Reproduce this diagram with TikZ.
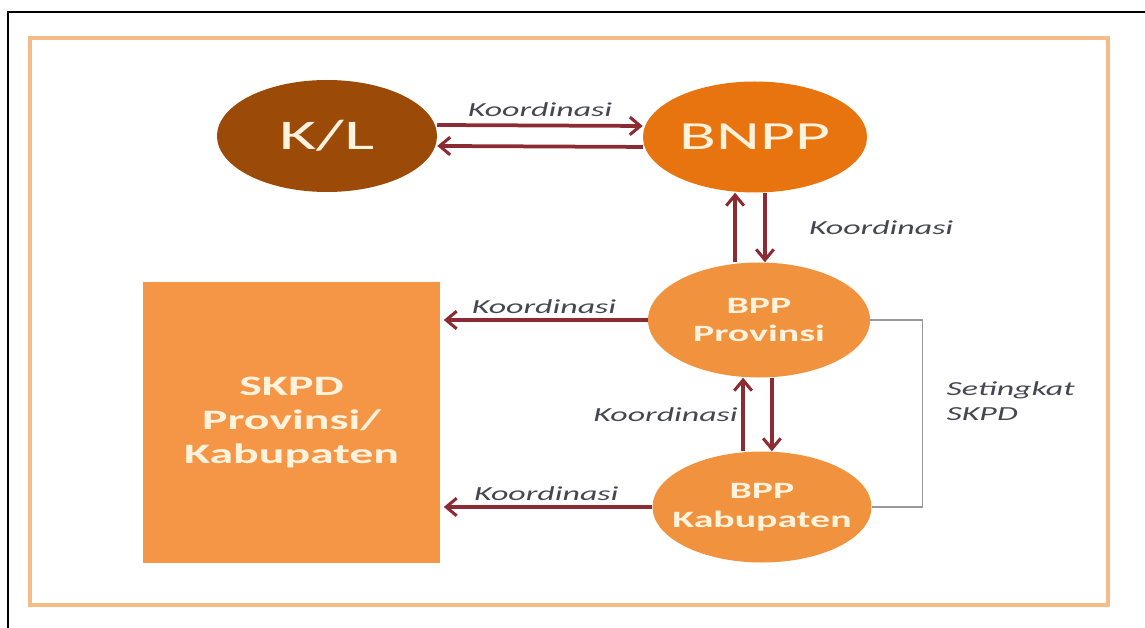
\documentclass[tikz,border=0pt]{standalone}
\usepackage{fontspec}
\setmainfont{Carlito}[FakeStretch=1.7]
\usetikzlibrary{arrows.meta,shapes.geometric}
\definecolor{coklat}{RGB}{155,74,8}
\definecolor{oranye}{RGB}{232,116,16}
\definecolor{oranyemuda}{RGB}{240,146,62}
\definecolor{kotak}{RGB}{245,150,70}
\definecolor{krem}{RGB}{255,243,222}
\definecolor{panah}{RGB}{140,44,50}
\definecolor{bingkai}{RGB}{246,188,135}
\definecolor{teks}{RGB}{70,70,82}
\tikzset{oval/.style={ellipse,inner ysep=0pt,inner xsep=-24pt,text=krem,align=center}}
\tikzset{arr/.style={draw=panah,line width=3.2pt,
    -{Straight Barb[length=9pt,width=15pt,line width=2.6pt]}}}
\tikzset{lbl/.style={text=teks,font=\fontsize{17}{21}\selectfont\itshape,inner sep=2pt}}

\begin{document}
\begin{tikzpicture}[x=0.03cm,y=-0.03cm]
          \useasboundingbox (0,0) rectangle (1145,628);

          % Bingkai
          \draw [line width=1.5pt] (1145,12) -- (8,12) -- (8,628);
          \draw [bingkai,line width=2.6pt] (30,38) rectangle (1108,605);

          % Lembaga
          \begin{scope}[every node/.style={oval}]
              \node [fill=coklat,minimum width=6.6cm,minimum height=3.36cm,
                     font=\fontsize{36}{40}\selectfont] (KL) at (327,136) {K/L};
              \node [fill=oranye,minimum width=6.72cm,minimum height=3.33cm,
                     font=\fontsize{34}{40}\selectfont] (BNPP) at (755,137) {BNPP};
              \node [fill=oranyemuda,minimum width=6.66cm,minimum height=3.45cm,
                     font=\fontsize{20}{24.5}\selectfont\bfseries] (Prov) at (759,320) {BPP\\Provinsi};
              \node [fill=oranyemuda,minimum width=6.57cm,minimum height=3.33cm,
                     font=\fontsize{20}{24.5}\selectfont\bfseries] (Kab) at (762,507) {BPP\\Kabupaten};
          \end{scope}

          % SKPD
          \node [rectangle,fill=kotak,text=krem,align=center,
                 minimum width=8.91cm,minimum height=8.43cm,
                 font=\fontsize{24}{29}\selectfont\bfseries] (SKPD) at (291.5,422.5)
                 {SKPD\\Provinsi/\\Kabupaten};

          % Koordinasi
          \draw [arr] ([yshift=9.4pt]KL.east) -- ([yshift=9.4pt]BNPP.west)
                node [lbl,midway,above=4pt] {Koordinasi};
          \draw [arr] ([yshift=-8.5pt]BNPP.west) -- ([yshift=-8.5pt]KL.east);
          \draw [arr] ([xshift=8.5pt]BNPP.south) -- ([xshift=8.5pt]BNPP.south |- Prov.north)
                node [lbl,midway,right=34pt] {Koordinasi};
          \draw [arr] ([xshift=-17pt]BNPP.south |- Prov.north) -- ([xshift=-17pt]BNPP.south);
          \draw [arr] ([xshift=11pt]Prov.south) -- ([xshift=11pt]Prov.south |- Kab.north);
          \draw [arr] ([xshift=-13.6pt]Prov.south |- Kab.north) -- ([xshift=-13.6pt]Prov.south)
                node [lbl,midway,left=1pt] {Koordinasi};
          \draw [arr,shorten >=3pt] (Prov.west) -- (Prov.west -| SKPD.east)
                node [lbl,midway,above=2pt] {Koordinasi};
          \draw [arr,shorten >=3pt] (Kab.west) -- (Kab.west -| SKPD.east)
                node [lbl,midway,above=2pt] {Koordinasi};

          % Setingkat
          \draw [gray!80,line width=1.1pt] (Prov.east) -- ++(52,0) |- (Kab.east);
          \node [lbl,align=left,anchor=west] (set) at (944,401) {Setingkat\\SKPD};
\end{tikzpicture}
\end{document}
